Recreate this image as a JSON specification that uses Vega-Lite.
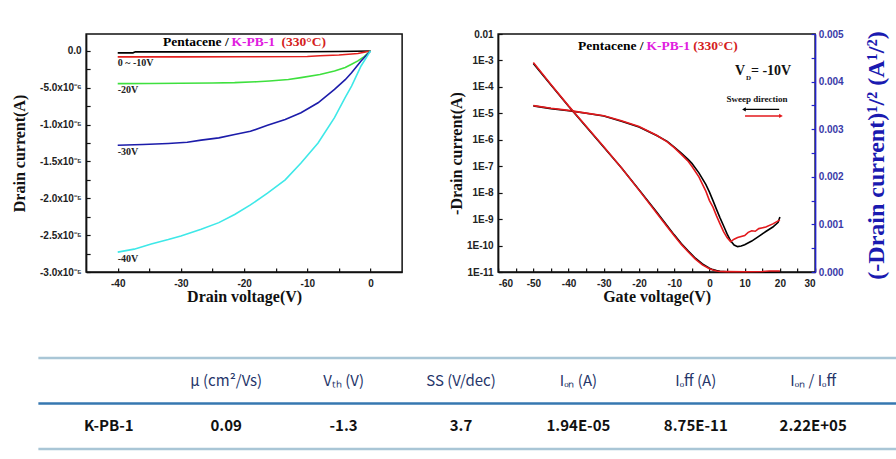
{
 "$schema": "https://vega.github.io/schema/vega-lite/v6.json",
 "background": "white",
 "padding": {"left": 10, "top": 28, "right": 0, "bottom": 0},
 "config": {
  "view": {"stroke": "#111111", "strokeWidth": 1.5},
  "axis": {"grid": false, "domain": true, "ticks": true, "tickSize": -4, "tickWidth": 1.2, "tickColor": "#111111", "domainColor": "#111111", "domainWidth": 1.5, "labelOverlap": false, "tickCount": 40, "labelFont": "Liberation Sans", "labelFontWeight": "bold", "labelFontSize": 10, "labelColor": "#222222", "titleFont": "Liberation Serif", "titleFontWeight": "bold", "titleFontSize": 16, "titleColor": "#111111"},
  "text": {"font": "Liberation Serif", "fontWeight": "bold"}
 },
 "datasets": {
  "output": [
   {"vg":"0V","vd":-40,"id":-2.6e-7},{"vg":"0V","vd":-37.6,"id":-2.6e-7},{"vg":"0V","vd":-37.2,"id":-1.2e-7},{"vg":"0V","vd":-30,"id":-1.2e-7},{"vg":"0V","vd":-20,"id":-1.1e-7},{"vg":"0V","vd":-10,"id":-1.0e-7},{"vg":"0V","vd":-5,"id":-0.8e-7},{"vg":"0V","vd":0,"id":0},
   {"vg":"-10V","vd":-40,"id":-8.0e-7},{"vg":"-10V","vd":-30,"id":-8.0e-7},{"vg":"-10V","vd":-20,"id":-7.9e-7},{"vg":"-10V","vd":-10,"id":-7.6e-7},{"vg":"-10V","vd":-8,"id":-6.6e-7},{"vg":"-10V","vd":-5,"id":-5.6e-7},{"vg":"-10V","vd":-2,"id":-3.4e-7},{"vg":"-10V","vd":0,"id":0},
   {"vg":"-20V","vd":-40,"id":-4.44e-6},{"vg":"-20V","vd":-35,"id":-4.42e-6},{"vg":"-20V","vd":-30,"id":-4.39e-6},{"vg":"-20V","vd":-25,"id":-4.35e-6},{"vg":"-20V","vd":-21.5,"id":-4.30e-6},{"vg":"-20V","vd":-18,"id":-4.18e-6},{"vg":"-20V","vd":-16,"id":-4.08e-6},{"vg":"-20V","vd":-13,"id":-3.88e-6},{"vg":"-20V","vd":-11,"id":-3.62e-6},{"vg":"-20V","vd":-8,"id":-3.2e-6},{"vg":"-20V","vd":-5.7,"id":-2.72e-6},{"vg":"-20V","vd":-4,"id":-2.25e-6},{"vg":"-20V","vd":-3,"id":-1.81e-6},{"vg":"-20V","vd":-2,"id":-1.35e-6},{"vg":"-20V","vd":-1,"id":-0.77e-6},{"vg":"-20V","vd":0,"id":0},
   {"vg":"-30V","vd":-40,"id":-12.79e-6},{"vg":"-30V","vd":-36,"id":-12.7e-6},{"vg":"-30V","vd":-32,"id":-12.56e-6},{"vg":"-30V","vd":-29,"id":-12.4e-6},{"vg":"-30V","vd":-26.8,"id":-12.1e-6},{"vg":"-30V","vd":-24,"id":-11.8e-6},{"vg":"-30V","vd":-21.5,"id":-11.34e-6},{"vg":"-30V","vd":-19,"id":-10.9e-6},{"vg":"-30V","vd":-16.3,"id":-10.1e-6},{"vg":"-30V","vd":-13.5,"id":-9.3e-6},{"vg":"-30V","vd":-11,"id":-8.39e-6},{"vg":"-30V","vd":-8.3,"id":-7.03e-6},{"vg":"-30V","vd":-5.7,"id":-5.21e-6},{"vg":"-30V","vd":-4,"id":-3.9e-6},{"vg":"-30V","vd":-3,"id":-2.95e-6},{"vg":"-30V","vd":-1.5,"id":-1.36e-6},{"vg":"-30V","vd":0,"id":0},
   {"vg":"-40V","vd":-40,"id":-27.3e-6},{"vg":"-40V","vd":-37.4,"id":-26.9e-6},{"vg":"-40V","vd":-34.7,"id":-26.2e-6},{"vg":"-40V","vd":-32,"id":-25.6e-6},{"vg":"-40V","vd":-30,"id":-25.1e-6},{"vg":"-40V","vd":-26.8,"id":-24.2e-6},{"vg":"-40V","vd":-24,"id":-23.3e-6},{"vg":"-40V","vd":-21.5,"id":-22.2e-6},{"vg":"-40V","vd":-19,"id":-20.9e-6},{"vg":"-40V","vd":-16.3,"id":-19.3e-6},{"vg":"-40V","vd":-13.5,"id":-17.5e-6},{"vg":"-40V","vd":-11,"id":-15.2e-6},{"vg":"-40V","vd":-8.3,"id":-12.5e-6},{"vg":"-40V","vd":-5.7,"id":-9.06e-6},{"vg":"-40V","vd":-4,"id":-6.3e-6},{"vg":"-40V","vd":-3,"id":-4.76e-6},{"vg":"-40V","vd":-1.5,"id":-2.04e-6},{"vg":"-40V","vd":0,"id":0}
  ],
  "outputLabels": [
   {"label":"0 ~ -10V","vd":-40,"id":-1.58e-6},
   {"label":"-20V","vd":-40,"id":-5.35e-6},
   {"label":"-30V","vd":-40,"id":-13.7e-6},
   {"label":"-40V","vd":-40,"id":-28.2e-6}
  ],
  "leftTitle": [
   {"part":"a","text":"Pentacene /","vd":-22.45,"id":1.18e-6},
   {"part":"b","text":"K-PB-1","vd":-21.98,"id":1.18e-6},
   {"part":"c","text":"(330°C)","vd":-14.07,"id":1.18e-6}
  ],
  "transfer": [
   {"sweep":"reverse","vg":-50,"i":1.91e-5},{"sweep":"reverse","vg":-45,"i":1.51e-5},{"sweep":"reverse","vg":-40,"i":1.26e-5},{"sweep":"reverse","vg":-35,"i":1.0e-5},{"sweep":"reverse","vg":-30,"i":7.94e-6},{"sweep":"reverse","vg":-25,"i":5.01e-6},{"sweep":"reverse","vg":-20,"i":3.02e-6},{"sweep":"reverse","vg":-15,"i":1.45e-6},{"sweep":"reverse","vg":-12,"i":8.71e-7},{"sweep":"reverse","vg":-10,"i":5.25e-7},{"sweep":"reverse","vg":-8,"i":3.16e-7},{"sweep":"reverse","vg":-6,"i":1.78e-7},{"sweep":"reverse","vg":-5,"i":1.29e-7},{"sweep":"reverse","vg":-3,"i":5.62e-8},{"sweep":"reverse","vg":-1,"i":2.0e-8},{"sweep":"reverse","vg":0,"i":1.05e-8},{"sweep":"reverse","vg":1,"i":5.01e-9},{"sweep":"reverse","vg":2,"i":2.34e-9},{"sweep":"reverse","vg":3,"i":1.12e-9},{"sweep":"reverse","vg":4,"i":5.62e-10},{"sweep":"reverse","vg":5,"i":2.75e-10},{"sweep":"reverse","vg":6,"i":1.51e-10},{"sweep":"reverse","vg":7,"i":1.05e-10},{"sweep":"reverse","vg":8,"i":9.12e-11},{"sweep":"reverse","vg":9,"i":9.55e-11},{"sweep":"reverse","vg":10,"i":1.07e-10},{"sweep":"reverse","vg":12,"i":1.48e-10},{"sweep":"reverse","vg":14,"i":2.24e-10},{"sweep":"reverse","vg":16,"i":3.39e-10},{"sweep":"reverse","vg":18,"i":5.01e-10},{"sweep":"reverse","vg":19.5,"i":7.59e-10},{"sweep":"reverse","vg":20,"i":1.2e-9},
   {"sweep":"forward","vg":-50,"i":1.95e-5},{"sweep":"forward","vg":-45,"i":1.55e-5},{"sweep":"forward","vg":-40,"i":1.29e-5},{"sweep":"forward","vg":-35,"i":1.02e-5},{"sweep":"forward","vg":-30,"i":8.13e-6},{"sweep":"forward","vg":-25,"i":5.25e-6},{"sweep":"forward","vg":-20,"i":3.16e-6},{"sweep":"forward","vg":-15,"i":1.48e-6},{"sweep":"forward","vg":-12,"i":8.32e-7},{"sweep":"forward","vg":-10,"i":5.01e-7},{"sweep":"forward","vg":-8,"i":2.82e-7},{"sweep":"forward","vg":-6,"i":1.51e-7},{"sweep":"forward","vg":-5,"i":1.0e-7},{"sweep":"forward","vg":-3,"i":3.98e-8},{"sweep":"forward","vg":-1,"i":1.12e-8},{"sweep":"forward","vg":0,"i":5.01e-9},{"sweep":"forward","vg":1,"i":2.82e-9},{"sweep":"forward","vg":2,"i":1.32e-9},{"sweep":"forward","vg":3,"i":6.61e-10},{"sweep":"forward","vg":4,"i":3.39e-10},{"sweep":"forward","vg":5,"i":2.0e-10},{"sweep":"forward","vg":6,"i":1.41e-10},{"sweep":"forward","vg":7,"i":1.74e-10},{"sweep":"forward","vg":8,"i":2.0e-10},{"sweep":"forward","vg":10,"i":2.4e-10},{"sweep":"forward","vg":11,"i":3.16e-10},{"sweep":"forward","vg":12,"i":3.63e-10},{"sweep":"forward","vg":13,"i":3.47e-10},{"sweep":"forward","vg":14,"i":4.37e-10},{"sweep":"forward","vg":16,"i":5.01e-10},{"sweep":"forward","vg":18,"i":6.61e-10},{"sweep":"forward","vg":20,"i":9.33e-10}
  ],
  "sqrt": [
   {"sweep":"reverse","vg":-50,"s":0.00438},{"sweep":"reverse","vg":-45,"s":0.00393},{"sweep":"reverse","vg":-40,"s":0.00348},{"sweep":"reverse","vg":-35,"s":0.00305},{"sweep":"reverse","vg":-30,"s":0.00262},{"sweep":"reverse","vg":-25,"s":0.00219},{"sweep":"reverse","vg":-20,"s":0.00173},{"sweep":"reverse","vg":-15,"s":0.00126},{"sweep":"reverse","vg":-12,"s":0.00097},{"sweep":"reverse","vg":-10,"s":0.00078},{"sweep":"reverse","vg":-8,"s":0.0006},{"sweep":"reverse","vg":-6,"s":0.00044},{"sweep":"reverse","vg":-4,"s":0.00029},{"sweep":"reverse","vg":-2,"s":0.00017},{"sweep":"reverse","vg":0,"s":0.00008},{"sweep":"reverse","vg":1,"s":0.00005},{"sweep":"reverse","vg":2,"s":0.00003},{"sweep":"reverse","vg":3,"s":0.000015},{"sweep":"reverse","vg":5,"s":0.000005},{"sweep":"reverse","vg":10,"s":0.000003},{"sweep":"reverse","vg":15,"s":0.000003},{"sweep":"reverse","vg":20,"s":0.000004},
   {"sweep":"forward","vg":-50,"s":0.0044},{"sweep":"forward","vg":-45,"s":0.00394},{"sweep":"forward","vg":-40,"s":0.00349},{"sweep":"forward","vg":-35,"s":0.00306},{"sweep":"forward","vg":-30,"s":0.00263},{"sweep":"forward","vg":-25,"s":0.00219},{"sweep":"forward","vg":-20,"s":0.00172},{"sweep":"forward","vg":-15,"s":0.00124},{"sweep":"forward","vg":-12,"s":0.00095},{"sweep":"forward","vg":-10,"s":0.00076},{"sweep":"forward","vg":-8,"s":0.00058},{"sweep":"forward","vg":-6,"s":0.00042},{"sweep":"forward","vg":-4,"s":0.00027},{"sweep":"forward","vg":-2,"s":0.00015},{"sweep":"forward","vg":0,"s":0.00007},{"sweep":"forward","vg":1,"s":0.00004},{"sweep":"forward","vg":2,"s":0.00002},{"sweep":"forward","vg":3,"s":0.00001},{"sweep":"forward","vg":5,"s":0.000008},{"sweep":"forward","vg":10,"s":0.000006},{"sweep":"forward","vg":15,"s":0.00001},{"sweep":"forward","vg":17,"s":0.00002},{"sweep":"forward","vg":20,"s":0.00002}
  ],
  "rightTitle": [
   {"part":"a","text":"Pentacene /","vg":-18.7,"i":3.5e-3},
   {"part":"b","text":"K-PB-1","vg":-17.85,"i":3.5e-3},
   {"part":"c","text":"(330°C)","vg":-4.6,"i":3.5e-3}
  ],
  "vd": [
   {"kind":"big","text":"V","vg":7.22,"i":3.98e-4},
   {"kind":"sub","text":"D","vg":10.35,"i":2.19e-4},
   {"kind":"big","text":"= -10V","vg":11.77,"i":3.98e-4}
  ],
  "sweepText": [{"text":"Sweep direction","vg":13.48,"i":3.47e-5}],
  "arrows": [
   {"sweep":"reverse","vg":9.8,"vg2":19.8,"head":9.8,"i":1.41e-5},
   {"sweep":"forward","vg":10.1,"vg2":20.3,"head":20.3,"i":7.94e-6}
  ],
  "lightRules": [{"row":"header","edge":"top"}],
  "darkRules": [{"row":"data","edge":"top"}],
  "bottomRule": [{"row":"data","edge":"bottom"}],
  "cells": [
   {"row":"header","col":"mu","text":"μ (cm²/Vs)"},
   {"row":"header","col":"vth","text":"Vₜₕ (V)"},
   {"row":"header","col":"ss","text":"SS (V/dec)"},
   {"row":"header","col":"ion","text":"Iₒₙ (A)"},
   {"row":"header","col":"ioff","text":"Iₒff (A)"},
   {"row":"header","col":"ratio","text":"Iₒₙ / Iₒff"},
   {"row":"data","col":"name","text":"K-PB-1"},
   {"row":"data","col":"mu","text":"0.09"},
   {"row":"data","col":"vth","text":"-1.3"},
   {"row":"data","col":"ss","text":"3.7"},
   {"row":"data","col":"ion","text":"1.94E-05"},
   {"row":"data","col":"ioff","text":"8.75E-11"},
   {"row":"data","col":"ratio","text":"2.22E+05"}
  ]
 },
 "spacing": 51,
 "center": true,
 "resolve": {"scale": {"color": "independent", "shape": "independent"}},
 "vconcat": [
  {
   "spacing": 44,
   "resolve": {"scale": {"color": "independent"}},
   "hconcat": [
    {
     "width": 316, "height": 238,
     "view": {"stroke": "#111111", "strokeWidth": 1.5},
     "layer": [
      {
       "data": {"name": "output"},
       "mark": {"type": "line", "strokeWidth": 1.6},
       "encoding": {
        "x": {"field": "vd", "type": "quantitative", "scale": {"domain": [-45, 5], "nice": false},
              "axis": {"domainColor": "#111111", "tickColor": "#111111", "tickCount": 40, "labelOverlap": false, "values": [-40,-35,-30,-25,-20,-15,-10,-5,0], "labelExpr": "datum.value % 10 == 0 ? (datum.value < 0 ? '-' + abs(datum.value) : '' + datum.value) : ''", "title": "Drain voltage(V)", "titlePadding": 0, "labelPadding": 10}},
        "y": {"field": "id", "type": "quantitative", "scale": {"domain": [-3e-5, 2.3e-6], "nice": false, "zero": false},
              "axis": {"domainColor": "#111111", "tickColor": "#111111", "tickCount": 40, "labelOverlap": false, "values": [0,-2.5e-6,-5e-6,-7.5e-6,-1e-5,-1.25e-5,-1.5e-5,-1.75e-5,-2e-5,-2.25e-5,-2.5e-5,-2.75e-5,-3e-5], "labelExpr": "abs(round(datum.value * 1e7)) % 50 != 0 ? '' : (datum.value == 0 ? '0.0' : (abs(datum.value) < 9e-6 ? '-' + format(abs(datum.value) * 1e6, '.1f') + 'x10⁻⁶' : '-' + format(abs(datum.value) * 1e5, '.1f') + 'x10⁻⁵'))", "title": "Drain current(A)", "titlePadding": 12, "labelPadding": 9}},
        "color": {"field": "vg", "type": "nominal", "scale": {"domain": ["0V","-10V","-20V","-30V","-40V"], "range": ["#000000","#e3201e","#3ee03e","#1c1caa","#3ee8e8"]}, "legend": null}
       }
      },
      {
       "data": {"name": "outputLabels"},
       "mark": {"type": "text", "align": "left", "fontSize": 10, "color": "#222"},
       "encoding": {"x": {"field": "vd", "type": "quantitative"}, "y": {"field": "id", "type": "quantitative"}, "text": {"field": "label"}}
      },
      {
       "data": {"name": "leftTitle"},
       "transform": [{"filter": "datum.part == 'a'"}],
       "mark": {"type": "text", "align": "right", "fontSize": 13.5, "color": "#000"},
       "encoding": {"x": {"field": "vd", "type": "quantitative"}, "y": {"field": "id", "type": "quantitative"}, "text": {"field": "text"}}
      },
      {
       "data": {"name": "leftTitle"},
       "transform": [{"filter": "datum.part == 'b'"}],
       "mark": {"type": "text", "align": "left", "fontSize": 13.5, "color": "#e020e0"},
       "encoding": {"x": {"field": "vd", "type": "quantitative"}, "y": {"field": "id", "type": "quantitative"}, "text": {"field": "text"}}
      },
      {
       "data": {"name": "leftTitle"},
       "transform": [{"filter": "datum.part == 'c'"}],
       "mark": {"type": "text", "align": "left", "fontSize": 13.5, "color": "#d42020"},
       "encoding": {"x": {"field": "vd", "type": "quantitative"}, "y": {"field": "id", "type": "quantitative"}, "text": {"field": "text"}}
      }
     ]
    },
    {
     "width": 317, "height": 238,
     "view": {"stroke": "#111111", "strokeWidth": 1.5},
     "layer": [
      {
       "layer": [
        {
         "data": {"name": "transfer"},
         "mark": {"type": "line", "strokeWidth": 1.6},
         "encoding": {
          "x": {"field": "vg", "type": "quantitative", "scale": {"domain": [-60, 30], "nice": false},
                "axis": {"domainColor": "#111111", "tickColor": "#111111", "tickCount": 40, "labelOverlap": false, "values": [-60,-55,-50,-45,-40,-35,-30,-25,-20,-15,-10,-5,0,5,10,15,20,25,30], "labelExpr": "datum.value % 10 == 0 ? (datum.value < 0 ? '-' + abs(datum.value) : '' + datum.value) : ''", "title": "Gate voltage(V)", "titlePadding": 0, "labelPadding": 10}},
          "y": {"field": "i", "type": "quantitative", "scale": {"type": "log", "domain": [1e-11, 0.01], "nice": false},
                "axis": {"domainColor": "#111111", "tickColor": "#111111", "tickCount": 40, "labelOverlap": false, "values": [1e-11,1e-10,1e-9,1e-8,1e-7,1e-6,1e-5,1e-4,1e-3,1e-2], "labelExpr": "datum.value > 0.005 ? '0.01' : '1E' + round(log(datum.value) / LN10)", "title": "-Drain current(A)", "titlePadding": 2, "labelPadding": 9}},
          "color": {"field": "sweep", "type": "nominal", "scale": {"domain": ["reverse", "forward"], "range": ["#000000", "#e3191c"]}, "legend": null}
         }
        },
        {
         "data": {"name": "rightTitle"},
         "transform": [{"filter": "datum.part == 'a'"}],
         "mark": {"type": "text", "align": "right", "fontSize": 13.5, "color": "#000"},
         "encoding": {"x": {"field": "vg", "type": "quantitative"}, "y": {"field": "i", "type": "quantitative"}, "text": {"field": "text"}}
        },
        {
         "data": {"name": "rightTitle"},
         "transform": [{"filter": "datum.part == 'b'"}],
         "mark": {"type": "text", "align": "left", "fontSize": 13.5, "color": "#e020e0"},
         "encoding": {"x": {"field": "vg", "type": "quantitative"}, "y": {"field": "i", "type": "quantitative"}, "text": {"field": "text"}}
        },
        {
         "data": {"name": "rightTitle"},
         "transform": [{"filter": "datum.part == 'c'"}],
         "mark": {"type": "text", "align": "left", "fontSize": 13.5, "color": "#d42020"},
         "encoding": {"x": {"field": "vg", "type": "quantitative"}, "y": {"field": "i", "type": "quantitative"}, "text": {"field": "text"}}
        },
        {
         "data": {"name": "vd"},
         "transform": [{"filter": "datum.kind == 'big'"}],
         "mark": {"type": "text", "align": "left", "fontSize": 14, "color": "#111"},
         "encoding": {"x": {"field": "vg", "type": "quantitative"}, "y": {"field": "i", "type": "quantitative"}, "text": {"field": "text"}}
        },
        {
         "data": {"name": "vd"},
         "transform": [{"filter": "datum.kind == 'sub'"}],
         "mark": {"type": "text", "align": "left", "fontSize": 7, "color": "#111"},
         "encoding": {"x": {"field": "vg", "type": "quantitative"}, "y": {"field": "i", "type": "quantitative"}, "text": {"field": "text"}}
        },
        {
         "data": {"name": "sweepText"},
         "mark": {"type": "text", "align": "center", "fontSize": 9, "color": "#111"},
         "encoding": {"x": {"field": "vg", "type": "quantitative"}, "y": {"field": "i", "type": "quantitative"}, "text": {"field": "text"}}
        },
        {
         "data": {"name": "arrows"},
         "mark": {"type": "rule", "strokeWidth": 1.3},
         "encoding": {"x": {"field": "vg", "type": "quantitative"}, "x2": {"field": "vg2"}, "y": {"field": "i", "type": "quantitative"}, "color": {"field": "sweep", "type": "nominal", "legend": null}}
        },
        {
         "data": {"name": "arrows"},
         "mark": {"type": "point", "filled": true, "size": 18, "opacity": 1},
         "encoding": {"x": {"field": "head", "type": "quantitative"}, "y": {"field": "i", "type": "quantitative"}, "color": {"field": "sweep", "type": "nominal", "legend": null}, "shape": {"field": "sweep", "type": "nominal", "scale": {"domain": ["reverse", "forward"], "range": ["triangle-left", "triangle-right"]}, "legend": null}}
        }
       ]
      },
      {
       "data": {"name": "sqrt"},
       "mark": {"type": "line", "strokeWidth": 1.6},
       "encoding": {
        "x": {"field": "vg", "type": "quantitative"},
        "y": {"field": "s", "type": "quantitative", "scale": {"domain": [0, 0.005], "nice": false},
              "axis": {"orient": "right", "tickCount": 40, "labelOverlap": false, "values": [0,0.0005,0.001,0.0015,0.002,0.0025,0.003,0.0035,0.004,0.0045,0.005], "labelExpr": "round(datum.value * 1e4) % 10 != 0 ? '' : format(datum.value, '.3f')", "labelColor": "#3a3aa8", "domainColor": "#2222cc", "tickColor": "#2222cc", "title": "(-Drain current)¹/² (A¹/²)", "titleColor": "#1a1ab0", "titleFontSize": 24, "titleAngle": 270, "titleX": 61, "titleY": 121, "titleAlign": "center", "titleBaseline": "middle", "labelPadding": 7}},
        "color": {"field": "sweep", "type": "nominal", "legend": null}
       }
      }
     ],
     "resolve": {"scale": {"y": "independent"}}
    }
   ]
  },
  {
   "width": 897, "height": 91,
   "view": {"stroke": null},
   "layer": [
    {
     "data": {"name": "lightRules"},
     "mark": {"type": "rule", "strokeWidth": 2.5, "color": "#a9c6d6"},
     "encoding": {
      "y": {"field": "row", "type": "nominal", "bandPosition": 0, "scale": {"type": "band", "domain": ["header", "data"], "paddingInner": 0, "paddingOuter": 0}, "axis": null}
     }
    },
    {
     "data": {"name": "darkRules"},
     "mark": {"type": "rule", "strokeWidth": 2.5, "color": "#3677b0"},
     "encoding": {
      "y": {"field": "row", "type": "nominal", "bandPosition": 0, "axis": null}
     }
    },
    {
     "data": {"name": "bottomRule"},
     "mark": {"type": "rule", "strokeWidth": 2.5, "color": "#a9c6d6"},
     "encoding": {
      "y": {"field": "row", "type": "nominal", "bandPosition": 1, "axis": null}
     }
    },
    {
     "data": {"name": "cells"},
     "transform": [{"filter": "datum.row == 'header'"}],
     "mark": {"type": "text", "font": "Noto Sans CJK KR", "fontSize": 15, "fontWeight": "normal", "color": "#26366a"},
     "encoding": {
      "x": {"field": "col", "type": "nominal", "scale": {"type": "band", "domain": ["name","mu","vth","ss","ion","ioff","ratio"], "paddingInner": 0, "paddingOuter": 0.3203, "align": 0.156}, "axis": null},
      "y": {"field": "row", "type": "nominal", "axis": null},
      "text": {"field": "text"}
     }
    },
    {
     "data": {"name": "cells"},
     "transform": [{"filter": "datum.row == 'data'"}],
     "mark": {"type": "text", "font": "Noto Sans CJK KR", "fontSize": 15, "fontWeight": "bold", "color": "#111"},
     "encoding": {
      "x": {"field": "col", "type": "nominal", "axis": null},
      "y": {"field": "row", "type": "nominal", "axis": null},
      "text": {"field": "text"}
     }
    }
   ]
  }
 ]
}
